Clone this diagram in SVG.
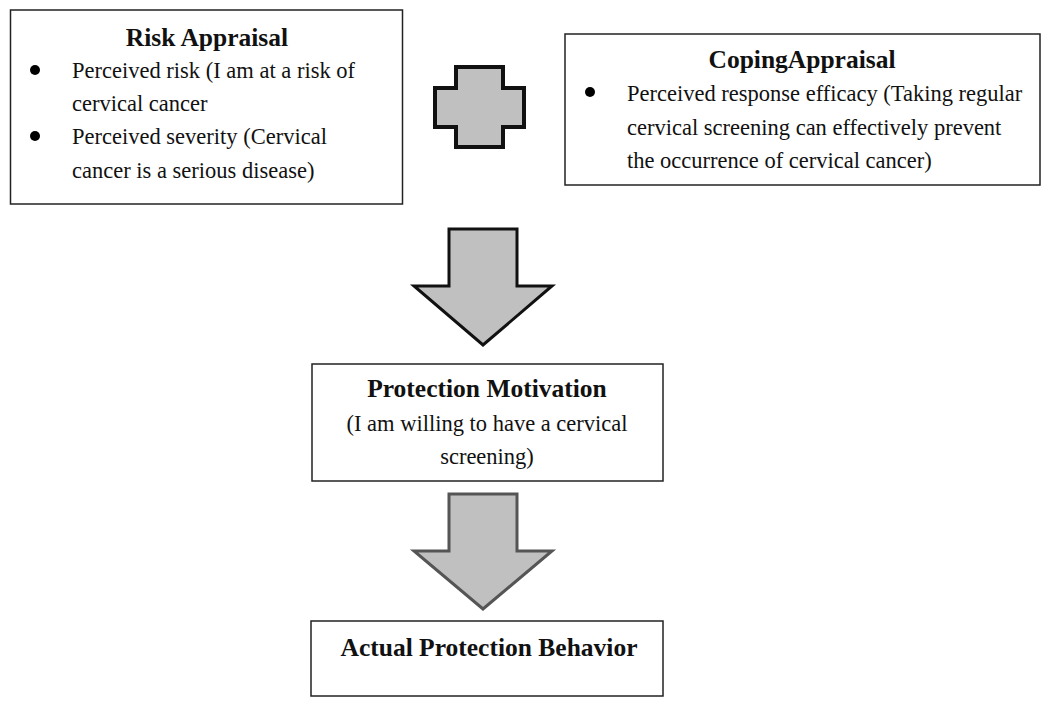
<svg xmlns="http://www.w3.org/2000/svg" width="1050" height="705" viewBox="0 0 1050 705">
<style>
.box{fill:#fff;stroke:#222;stroke-width:1.5}
.t{font-family:"Liberation Serif",serif;font-size:22.5px;fill:#111}
.h{font-family:"Liberation Serif",serif;font-size:25.5px;font-weight:bold;fill:#111}
.c{text-anchor:middle}
.arr{fill:#c0c0c0;stroke-linejoin:miter}
</style>
<rect width="1050" height="705" fill="#fff"/>
<g id="risk">
<rect class="box" x="10.5" y="10" width="392" height="194"/>
<text class="h c" x="207" y="46">Risk Appraisal</text>
<circle cx="35" cy="70" r="5" fill="#000"/>
<text class="t" x="72" y="78">Perceived risk (I am at a risk of</text>
<text class="t" x="72" y="111">cervical cancer</text>
<circle cx="35" cy="136" r="5" fill="#000"/>
<text class="t" x="72" y="144">Perceived severity (Cervical</text>
<text class="t" x="72" y="178">cancer is a serious disease)</text>
</g>
<g id="plus">
<path class="arr" stroke="#111" stroke-width="4" d="M456 67 H503 V88 H524 V127 H503 V147 H456 V127 H435 V88 H456 Z"/>
</g>
<g id="coping">
<rect class="box" x="565" y="34" width="475" height="151"/>
<text class="h c" x="802" y="68">CopingAppraisal</text>
<circle cx="590" cy="92" r="5" fill="#000"/>
<text class="t" x="627" y="101">Perceived response efficacy (Taking regular</text>
<text class="t" x="627" y="135">cervical screening can effectively prevent</text>
<text class="t" x="627" y="168">the occurrence of cervical cancer)</text>
</g>
<g id="connectors">
<path class="arr" stroke="#111" stroke-width="3" d="M449 229 H517 V286 H552 L483 345 L414 286 H449 Z"/>
<path class="arr" stroke="#555" stroke-width="3" d="M449 494 H517 V551 H552 L483 609 L414 551 H449 Z"/>
</g>
<g id="motivation">
<rect class="box" x="312" y="364" width="351" height="117"/>
<text class="h c" x="487" y="397">Protection Motivation</text>
<text class="t c" x="487" y="431">(I am willing to have a cervical</text>
<text class="t c" x="487" y="464">screening)</text>
</g>
<g id="behavior">
<rect class="box" x="311" y="621" width="352" height="75"/>
<text class="h c" x="489" y="656">Actual Protection Behavior</text>
</g>
</svg>
